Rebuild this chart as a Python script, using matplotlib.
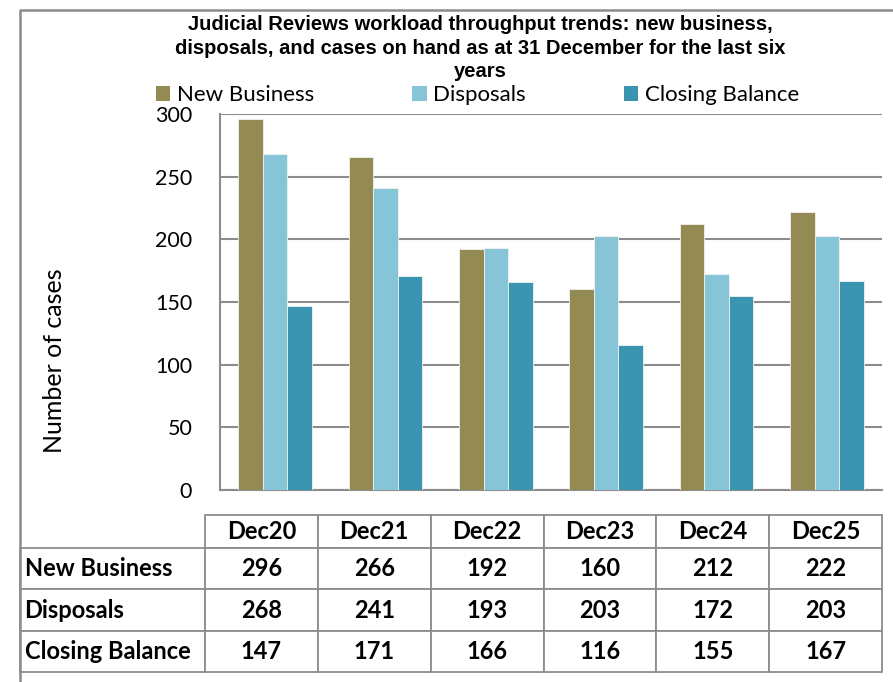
import matplotlib
matplotlib.use("Agg")
import matplotlib.pyplot as plt
import numpy as np
from matplotlib.patches import Patch
from matplotlib.lines import Line2D

# data
years = ["Dec20", "Dec21", "Dec22", "Dec23", "Dec24", "Dec25"]
new_business = [296, 266, 192, 160, 212, 222]
disposals = [268, 241, 193, 203, 172, 203]
closing_balance = [147, 171, 166, 116, 155, 167]
series_names = ["New Business", "Disposals", "Closing Balance"]
colors = ["#948A54", "#86C5D7", "#3A95B0"]

W, H = 893, 682
fig = plt.figure(figsize=(W / 100, H / 100), dpi=100)
body_font = ["Lato", "DejaVu Sans"]


def fx(px):
    return px / W


def fy(py):
    return 1 - py / H


# outer chart frame (left and top edges only visible)
fig.add_artist(Line2D([fx(20), fx(20), 1.0], [0.0, fy(10), fy(10)],
                      transform=fig.transFigure, color="#8c8c8c", lw=1.8))

ax = fig.add_axes([fx(220), fy(490), fx(882) - fx(220), fy(114) - fy(490)])
x = np.arange(len(years))
w = 0.222
all_series = [new_business, disposals, closing_balance]
for i, (vals, c, name) in enumerate(zip(all_series, colors, series_names)):
    ax.bar(x + (i - 1) * w, vals, width=w, color=c, edgecolor="#f2f2ee",
           linewidth=0.6, label=name, zorder=3)

ax.set_xlim(-0.5, len(years) - 0.5)
ax.set_ylim(0, 300)
ax.set_yticks(range(0, 301, 50))
ax.yaxis.grid(True, color="#8c8c8c", lw=1.5, zorder=0)
ax.set_xticks([])
ax.tick_params(axis="y", length=0, pad=20, labelsize=15.5)
for lab in ax.get_yticklabels():
    lab.set_family(body_font)
for s in ["top", "right"]:
    ax.spines[s].set_visible(False)
for s in ["left", "bottom"]:
    ax.spines[s].set_color("#8c8c8c")
    ax.spines[s].set_linewidth(1.5)

fig.text(fx(55), fy(361), "Number of cases", rotation=90, ha="center",
         va="center", fontsize=18, family=body_font)

fig.text(fx(480), fy(48),
         "Judicial Reviews workload throughput trends: new business,\n"
         "disposals, and cases on hand as at 31 December for the last six\n"
         "years",
         ha="center", va="center", fontsize=14.5, fontweight="bold",
         family=["Liberation Sans Narrow", "Liberation Sans"], linespacing=1.27)

handles = [Patch(facecolor=c) for c in colors]
fig.legend(handles, series_names, ncol=3, loc="center left",
           bbox_to_anchor=(fx(156), fy(95)), frameon=False,
           prop={"family": body_font, "size": 16}, handlelength=0.65,
           handleheight=0.65, handletextpad=0.3, columnspacing=4.4,
           borderaxespad=0, borderpad=0)

# data table
tax = fig.add_axes([fx(20), fy(672), fx(882) - fx(20), fy(515) - fy(672)])
tax.axis("off")
cell_text = [[""] + years]
for name, vals in zip(series_names, all_series):
    cell_text.append([name] + [str(v) for v in vals])
tbl = tax.table(cellText=cell_text, bbox=[0, 0, 1, 1], cellLoc="center")
tbl.auto_set_font_size(False)
first_w = 185 / 862
other_w = (1 - first_w) / len(years)
row_h = [33 / 157] + [41.3 / 157] * 3
for (r, c), cell in tbl.get_celld().items():
    cell.set_width(first_w if c == 0 else other_w)
    cell.set_height(row_h[r])
    cell.set_edgecolor("#8c8c8c")
    cell.set_linewidth(1.3)
    t = cell.get_text()
    t.set_fontsize(17)
    t.set_fontweight("bold")
    t.set_family(body_font)
    if c == 0:
        t.set_ha("left")
        cell.PAD = 0.025
    if r == 0 and c == 0:
        cell.visible_edges = ""

fig.savefig("out.png", dpi=100)
